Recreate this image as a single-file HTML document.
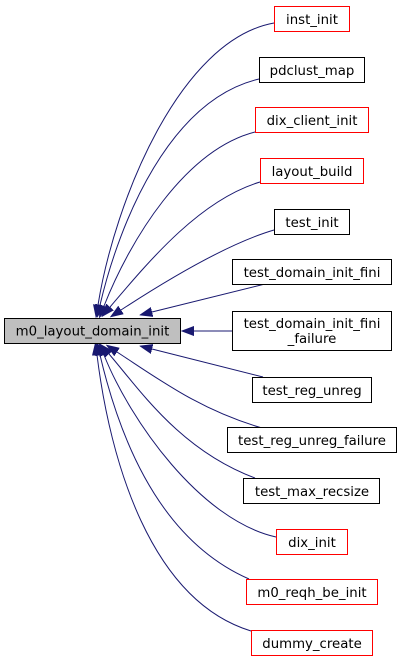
<!DOCTYPE html>
<html><head><meta charset="utf-8"><style>
body{margin:0;background:#fff;width:401px;height:661px;overflow:hidden}
svg{display:block}
text{font-family:"DejaVu Sans","Liberation Sans",sans-serif;font-size:13.3px;fill:#000}
</style></head><body>
<svg width="401" height="661" viewBox="0 0 401 661">
<defs><marker id="a" markerUnits="userSpaceOnUse" markerWidth="13" markerHeight="10" refX="0" refY="5" orient="auto"><path d="M0,0.5 L12,5 L0,9.5 z" fill="#191970" stroke="#191970"/></marker></defs>
<g fill="none" stroke="#191970" stroke-width="1" marker-end="url(#a)">
<path d="M274,23 C180,40 115,200 98,305"/>
<path d="M259,79 C170,100 120,220 100,305"/>
<path d="M255,132 C185,150 130,240 104,306"/>
<path d="M260,182 C200,200 150,260 110,307"/>
<path d="M274,230 C240,240 190,265 121,310"/>
<path d="M265,284 C220,295 180,305 152,312"/>
<path d="M232,331 L194,331"/>
<path d="M263,377 C220,366 180,356 152,349"/>
<path d="M262,428 C200,410 160,380 117,352"/>
<path d="M255,478 C180,450 140,390 109,354"/>
<path d="M276,537 C200,520 130,420 104,355"/>
<path d="M249,579 C160,540 120,440 100,355"/>
<path d="M251,631 C150,600 110,460 97,355"/>
</g>
<rect x="4.5" y="318.5" width="176" height="25" fill="#bfbfbf" stroke="#000"/>
<text x="92.5" y="335.5" text-anchor="middle">m0_layout_domain_init</text>
<g fill="#fff" stroke-width="1">
<rect x="274.5" y="6.5" width="75" height="25" stroke="#f00"/>
<rect x="259.5" y="57.5" width="105" height="25" stroke="#000"/>
<rect x="255.5" y="107.5" width="113" height="25" stroke="#f00"/>
<rect x="260.5" y="158.5" width="103" height="25" stroke="#f00"/>
<rect x="274.5" y="209.5" width="75" height="25" stroke="#000"/>
<rect x="232.5" y="259.5" width="159" height="25" stroke="#000"/>
<rect x="232.5" y="311.5" width="159" height="39" stroke="#000"/>
<rect x="252.5" y="377.5" width="119" height="25" stroke="#000"/>
<rect x="227.5" y="427.5" width="169" height="25" stroke="#000"/>
<rect x="243.5" y="478.5" width="136" height="25" stroke="#000"/>
<rect x="276.5" y="529.5" width="71" height="25" stroke="#f00"/>
<rect x="246.5" y="579.5" width="131" height="25" stroke="#f00"/>
<rect x="251.5" y="630.5" width="121" height="25" stroke="#f00"/>
</g>
<g text-anchor="middle">
<text x="312" y="24">inst_init</text>
<text x="312" y="75">pdclust_map</text>
<text x="312" y="125">dix_client_init</text>
<text x="312" y="176">layout_build</text>
<text x="312" y="227">test_init</text>
<text x="312" y="277">test_domain_init_fini</text>
<text x="312" y="328">test_domain_init_fini</text>
<text x="312" y="343">_failure</text>
<text x="312" y="395">test_reg_unreg</text>
<text x="312" y="445">test_reg_unreg_failure</text>
<text x="312" y="496">test_max_recsize</text>
<text x="312" y="547">dix_init</text>
<text x="312" y="597">m0_reqh_be_init</text>
<text x="312" y="648">dummy_create</text>
</g>
</svg>
</body></html>
